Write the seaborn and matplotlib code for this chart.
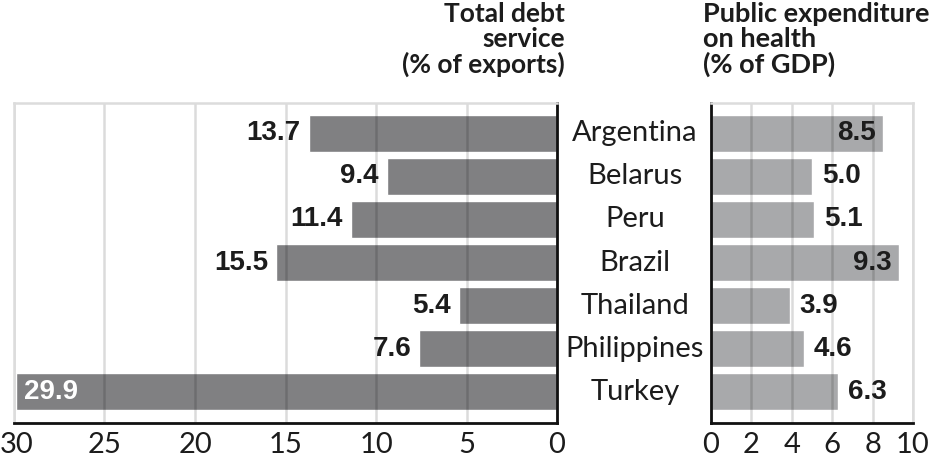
import matplotlib
matplotlib.use("Agg")
import matplotlib.pyplot as plt
import matplotlib.transforms as mtransforms
import seaborn as sns
import pandas as pd

countries = ["Argentina", "Belarus", "Peru", "Brazil", "Thailand", "Philippines", "Turkey"]
debt_service = [13.7, 9.4, 11.4, 15.5, 5.4, 7.6, 29.9]
health_spend = [8.5, 5.0, 5.1, 9.3, 3.9, 4.6, 6.3]
debt_ticks = [30, 25, 20, 15, 10, 5, 0]
health_ticks = [0, 2, 4, 6, 8, 10]

df = pd.DataFrame({"country": countries, "debt": debt_service, "health": health_spend})

sns.set_theme(style="white")
plt.rcParams["font.family"] = ["Lato", "DejaVu Sans"]

TXT = "#1c1c1c"
DARK = "#808082"
LIGHT = "#a8a9ab"
GRID_A = 0.14
GRID_SOLID = "#dcdcdc"

fig = plt.figure(figsize=(9.36, 4.59), dpi=100)
axL = fig.add_axes([14 / 936, 1 - 423 / 459, (557 - 14) / 936, 320 / 459])
axR = fig.add_axes([711 / 936, 1 - 423 / 459, (913 - 711) / 936, 320 / 459])

sns.barplot(data=df, x="debt", y="country", orient="h", color=DARK, width=0.86,
            saturation=1, ax=axL, zorder=2)
sns.barplot(data=df, x="health", y="country", orient="h", color=LIGHT, width=0.86,
            saturation=1, ax=axR, zorder=2)

for ax in (axL, axR):
    ax.set_ylim(6.72, -0.70)
    ax.set_ylabel("")
    ax.set_xlabel("")
    ax.set_yticks([])
    ax.tick_params(axis="x", length=0, pad=6.5, labelsize=21, labelcolor=TXT)
    ax.set_axisbelow(False)
    ax.grid(axis="x", color="black", alpha=GRID_A, lw=1.8, zorder=3)
    ax.grid(axis="y", visible=False)

axL.set_xlim(30, 0)
axL.set_xticks(debt_ticks)
axL.set_xticklabels([str(t) for t in debt_ticks])
axR.set_xlim(0, 10)
axR.set_xticks(health_ticks)
axR.set_xticklabels([str(t) for t in health_ticks])

# nudge the leftmost tick label so it stays inside the figure
first = axL.get_xticklabels()[0]
first.set_transform(first.get_transform() + mtransforms.ScaledTranslation(2 / 72, 0, fig.dpi_scale_trans))

for sp in ("top", "left"):
    axL.spines[sp].set_color(GRID_SOLID)
    axL.spines[sp].set_linewidth(1.8)
for sp in ("right", "bottom"):
    axL.spines[sp].set_color("#111111")
    axL.spines[sp].set_linewidth(2)
for sp in ("top", "right"):
    axR.spines[sp].set_color(GRID_SOLID)
    axR.spines[sp].set_linewidth(1.8)
for sp in ("left", "bottom"):
    axR.spines[sp].set_color("#111111")
    axR.spines[sp].set_linewidth(2)
for ax in (axL, axR):
    for sp in ax.spines.values():
        sp.set_zorder(4)

vfont = dict(family=["Liberation Sans", "DejaVu Sans"], fontweight="bold", fontsize=20)

for i, v in enumerate(debt_service):
    if v > 25:
        axL.annotate(f"{v:.1f}", (v, i), xytext=(6, 0), textcoords="offset points",
                     ha="left", va="center", color="white", zorder=5, **vfont)
    else:
        axL.annotate(f"{v:.1f}", (v, i), xytext=(-6, 0), textcoords="offset points",
                     ha="right", va="center", color=TXT, zorder=5, **vfont)

for i, v in enumerate(health_spend):
    if v > 8:
        axR.annotate(f"{v:.1f}", (v, i), xytext=(-5, 0), textcoords="offset points",
                     ha="right", va="center", color=TXT, zorder=5, **vfont)
    else:
        axR.annotate(f"{v:.1f}", (v, i), xytext=(7, 0), textcoords="offset points",
                     ha="left", va="center", color=TXT, zorder=5, **vfont)

trans = mtransforms.blended_transform_factory(fig.transFigure, axL.transData)
for i, c in enumerate(countries):
    fig.text(635 / 936, i, c, transform=trans, ha="center", va="center",
             fontsize=21, color=TXT)

fig.text(565 / 936, 1 - 2 / 459, "Total debt\nservice\n(% of exports)", ha="right", va="top",
         fontsize=19, fontweight="bold", color=TXT, linespacing=1.05)
fig.text(703 / 936, 1 - 2 / 459, "Public expenditure\non health\n(% of GDP)", ha="left", va="top",
         fontsize=19.5, fontweight="bold", color=TXT, linespacing=1.05)

fig.savefig("out.png", dpi=100)
